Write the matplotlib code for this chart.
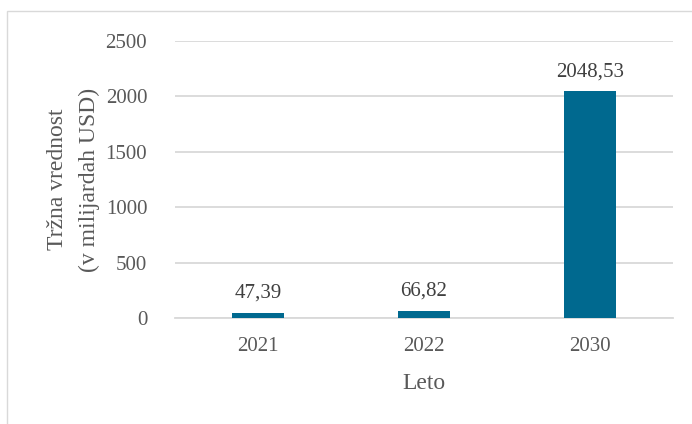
import matplotlib
matplotlib.use("Agg")
import matplotlib.pyplot as plt
from matplotlib.patches import Rectangle

years = ["2021", "2022", "2030"]
values = [47.39, 66.82, 2048.53]
value_labels = ["47,39", "66,82", "2048,53"]
yticks = [0, 500, 1000, 1500, 2000, 2500]

plt.rcParams["font.family"] = ["Liberation Serif", "DejaVu Serif"]
text_color = "#595959"

fig = plt.figure(figsize=(6.92, 4.24), dpi=100)
# outer chart frame (cropped at right/bottom in the original)
fig.patches.append(Rectangle((7 / 692, -0.1), 1.2, 1 - 11 / 424 + 0.1,
                             transform=fig.transFigure, fill=False,
                             edgecolor="#D9D9D9", lw=1))

ax = fig.add_axes([175 / 692, 0.25, 498 / 692, 0.9033 - 0.25])
x = range(len(years))
bars = ax.bar(x, values, width=0.31, color="#00698F", zorder=3)
for b, lab in zip(bars, value_labels):
    ax.text(b.get_x() + b.get_width() / 2, b.get_height() + 90, lab,
            ha="center", va="bottom", fontsize=15, color="#404040")

ax.set_xlim(-0.5, 2.5)
ax.set_ylim(0, 2500)
ax.set_yticks(yticks)
ax.set_xticks(list(x))
ax.set_xticklabels(years)
ax.yaxis.grid(True, color="#D9D9D9", lw=1.3, zorder=0)
for s in ["top", "right", "left"]:
    ax.spines[s].set_visible(False)
ax.spines["bottom"].set_color("#D9D9D9")
ax.spines["bottom"].set_linewidth(1.3)
ax.tick_params(length=0, labelsize=15, labelcolor=text_color)
ax.tick_params(axis="y", pad=20)
ax.tick_params(axis="x", pad=14)
ax.set_xlabel("Leto", fontsize=17, color=text_color, labelpad=12)
ax.set_ylabel("Tržna vrednost\n(v milijardah USD)", fontsize=17,
              color=text_color, labelpad=4, linespacing=1.65)

fig.savefig("out.png", dpi=100)
